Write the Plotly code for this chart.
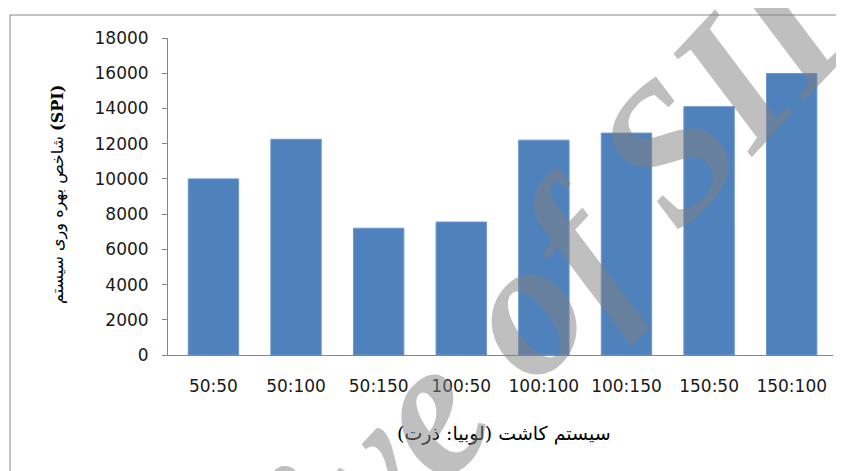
import plotly.graph_objects as go

categories = ["50:50", "50:100", "50:150", "100:50", "100:100", "100:150", "150:50", "150:100"]
spi_values = [10000, 12250, 7200, 7550, 12200, 12600, 14100, 15980]
y_ticks = [0, 2000, 4000, 6000, 8000, 10000, 12000, 14000, 16000, 18000]

# page body has an 8px margin; figure is sized to fill the rest of the window
OFF = 8
W, H = 844 - OFF, 471 - OFF
L, T = 168 - OFF, 38 - OFF
PW, PH = 665, 317
R, B = W - L - PW, H - T - PH


def px(x):  # reference pixel x -> paper x
    return (x - OFF - L) / PW


def py(y):  # reference pixel y -> paper y
    return (T + PH - (y - OFF)) / PH


fig = go.Figure()
fig.add_trace(go.Bar(
    x=categories, y=spi_values,
    marker=dict(color="#4F81BD", line=dict(color="#6a97cc", width=1)),
))

fig.update_layout(
    width=W, height=H,
    margin=dict(l=L, r=R, t=T, b=B, autoexpand=False),
    paper_bgcolor="white", plot_bgcolor="white",
    bargap=0.39, showlegend=False,
    font=dict(family="DejaVu Sans", color="black"),
    xaxis=dict(
        range=[-0.55, 7.5],
        showline=True, linecolor="#868686", linewidth=1,
        ticks="", showgrid=False, zeroline=False,
        tickfont=dict(family="DejaVu Sans", size=17, color="#1a1a1a"),
        ticklabelstandoff=16,
    ),
    yaxis=dict(
        range=[0, 18000], tickvals=y_ticks, ticktext=[str(v) for v in y_ticks],
        showline=True, linecolor="#868686", linewidth=1,
        ticks="outside", ticklen=5, tickcolor="#868686",
        showgrid=False, zeroline=False,
        tickfont=dict(family="DejaVu Sans", size=17, color="#1a1a1a"),
        ticklabelstandoff=10,
    ),
)

# outer chart border
fig.add_shape(type="rect", xref="paper", yref="paper",
              x0=px(10), x1=px(843), y0=py(480), y1=py(15),
              line=dict(color="#8a8a8a", width=1), fillcolor="rgba(0,0,0,0)",
              layer="below")

# axis titles
fig.add_annotation(xref="paper", yref="paper",
                   x=px(58), y=py(195), xanchor="center", yanchor="middle",
                   textangle=-90, showarrow=False,
                   text="شاخص بهره وری سیستم <b>(SPI)</b>",
                   font=dict(family="DejaVu Serif, DejaVu Sans", size=16, color="black"))
fig.add_annotation(xref="paper", yref="paper",
                   x=px(504), y=py(433), xanchor="center", yanchor="middle",
                   showarrow=False,
                   text="سیستم کاشت (لوبیا: ذرت)",
                   font=dict(family="DejaVu Serif, DejaVu Sans", size=19, color="black"))

# watermark
fig.add_annotation(xref="paper", yref="paper",
                   x=px(435), y=py(400), xanchor="center", yanchor="middle",
                   textangle=-47, showarrow=False,
                   text="Archive of SID",
                   font=dict(family="Liberation Serif", size=195, style="italic",
                             weight="bold", color="rgba(128,128,128,0.5)"))

fig.write_html("out.html")
